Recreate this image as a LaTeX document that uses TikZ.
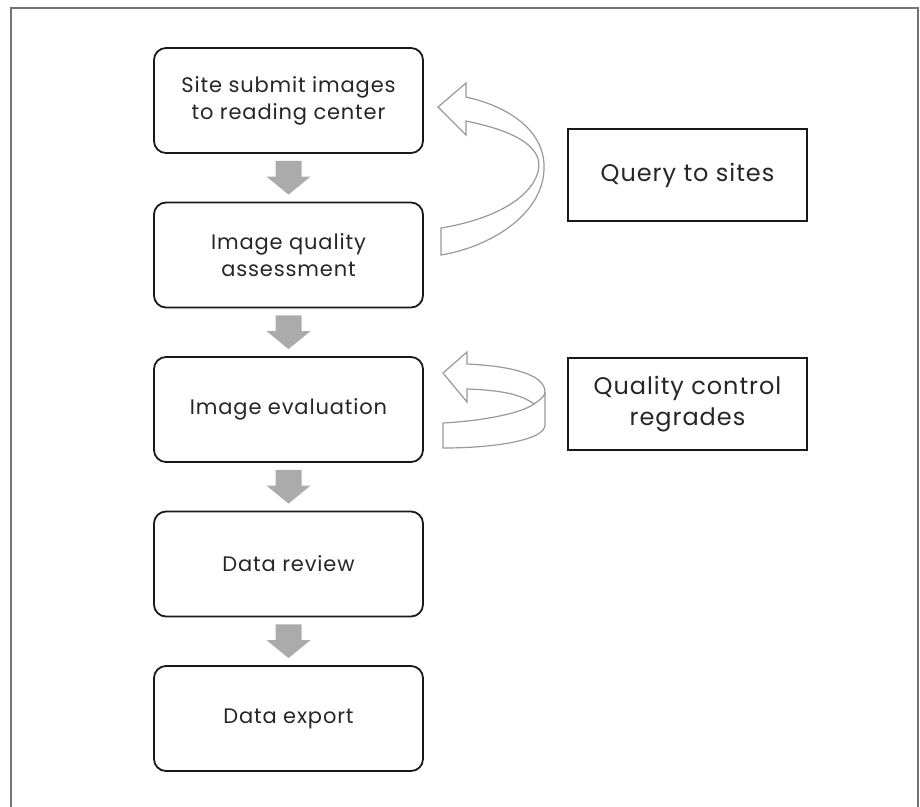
\documentclass[tikz,border=0pt]{standalone}
\usepackage{fontspec}
\setmainfont{Poppins}
\usetikzlibrary{calc}
\begin{document}
\begin{tikzpicture}[x=1pt,y=-1pt,
  flowbox/.style={draw=black!90, line width=1.8pt, rounded corners=12pt, minimum width=269pt, minimum height=105pt, align=center, font=\fontsize{21}{27}\selectfont\addfontfeature{LetterSpace=4}, text=black!85},
  sidebox/.style={draw=black!90, line width=1.5pt, minimum width=239pt, minimum height=92pt, align=center, font=\fontsize{24}{31}\selectfont\addfontfeature{LetterSpace=4}, text=black!85},
  curvarrow/.style={draw=black!40, line width=1.2pt, fill=white, line join=miter},
  downarrow/.style={fill=black!33, draw=none}
]
\useasboundingbox (0,0) rectangle (920,806);
\draw[black!55, line width=1.3pt] (11,830) -- (11,8) -- (918,8) -- (918,830);

\node[flowbox] (b1) at (288.5,100.5) {Site submit images\\to reading center};
\node[flowbox] (b2) at (288.5,255) {Image quality\\assessment};
\node[flowbox] (b3) at (288.5,409.5) {Image evaluation};
\node[flowbox] (b4) at (288.5,564) {Data review};
\node[flowbox] (b5) at (288.5,718.5) {Data export};

\node[sidebox] (q1) at (687.5,175) {Query to sites};
\node[sidebox] (q2) at (687.5,404) {Quality control\\regrades};

% gray down arrows
\foreach \a/\b in {b1/b2,b2/b3,b3/b4,b4/b5}{
  \path (\a.south) ++(0,7) coordinate (s) (\b.north) ++(0,-7) coordinate (t);
  \fill[downarrow] ($(s)+(-13,0)$) -- ($(s)+(13,0)$) -- ($(t)+(13,-18)$) -- ($(t)+(22,-18)$) -- (t) -- ($(t)+(-22,-18)$) -- ($(t)+(-13,-18)$) -- cycle;
}

% curved arrow 1
\draw[curvarrow] (438,107) -- (466,83) -- (466,97)
  .. controls (515,108) and (546,135) .. (544,170)
  .. controls (542,215) and (490,247) .. (441,255)
  -- (441,228)
  .. controls (490,220) and (530,200) .. (538,172)
  .. controls (545,145) and (510,130) .. (466,121)
  -- (466,135) -- cycle;

% curved arrow 2
\draw[curvarrow] (443,373) -- (467,352) -- (467,364)
  .. controls (510,366) and (545,374) .. (545,392)
  -- (545,425)
  .. controls (545,440) and (495,448) .. (443,448)
  -- (443,423)
  .. controls (480,421) and (520,414) .. (534,404)
  .. controls (520,393) and (495,390) .. (467,389)
  -- (467,402) -- cycle;
\draw[curvarrow, fill=none] (534,404) .. controls (541,399) and (545,396) .. (545,392);
\end{tikzpicture}
\end{document}
